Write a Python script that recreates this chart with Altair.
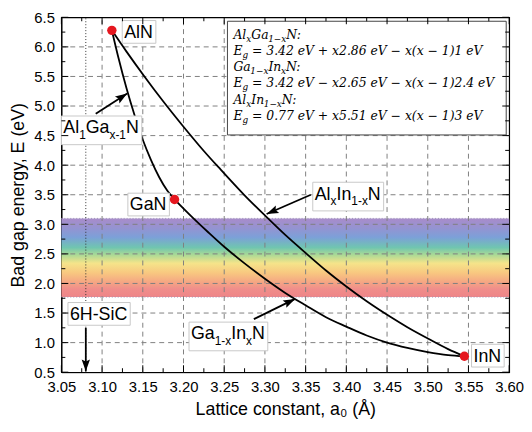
import math
import altair as alt
import pandas as pd

# ---------------- values ----------------
algan_a = [3.112, 3.120, 3.130, 3.140, 3.150, 3.160, 3.170, 3.180, 3.189]
algan_E = [6.28, 5.82, 5.30, 4.84, 4.43, 4.09, 3.80, 3.57, 3.42]

alinn_a = [3.112, 3.130, 3.152, 3.175, 3.200, 3.225, 3.246, 3.275, 3.300, 3.325,
           3.353, 3.375, 3.400, 3.425, 3.456, 3.475, 3.500, 3.525, 3.545]
alinn_E = [6.28, 5.92, 5.50, 5.08, 4.65, 4.24, 3.92, 3.49, 3.15, 2.82,
           2.48, 2.22, 1.95, 1.70, 1.42, 1.26, 1.07, 0.89, 0.77]

gainn_a = [3.189, 3.210, 3.230, 3.250, 3.275, 3.300, 3.325, 3.350, 3.375, 3.400,
           3.425, 3.450, 3.475, 3.500, 3.525, 3.545]
gainn_E = [3.42, 3.13, 2.87, 2.62, 2.34, 2.08, 1.84, 1.63, 1.43, 1.27,
           1.12, 1.00, 0.91, 0.84, 0.79, 0.77]

binary_names = ["AlN", "GaN", "InN"]
binary_a = [3.112, 3.189, 3.545]
binary_E = [6.28, 3.42, 0.77]

visible_hi = 3.10
visible_lo = 1.77
sic_a = 3.08

x_ticks = [3.05, 3.10, 3.15, 3.20, 3.25, 3.30, 3.35, 3.40, 3.45, 3.50, 3.55, 3.60]
x_minor = [3.075, 3.125, 3.175, 3.225, 3.275, 3.325, 3.375, 3.425, 3.475, 3.525, 3.575]
y_ticks = [0.5, 1.0, 1.5, 2.0, 2.5, 3.0, 3.5, 4.0, 4.5, 5.0, 5.5, 6.0, 6.5]
y_minor = [0.75, 1.25, 1.75, 2.25, 2.75, 3.25, 3.75, 4.25, 4.75, 5.25, 5.75, 6.25]

# annotation labels: (segments, anchor a, anchor E); segments: (text, is_subscript)
labels = [
    ([("AlN", False)], 3.1272, 6.153),
    ([("GaN", False)], 3.1341, 3.234),
    ([("InN", False)], 3.5562, 0.679),
    ([("6H-SiC", False)], 3.0605, 1.385),
    ([("Al", False), ("1", True), ("Ga", False), ("x-1", True), ("N", False)], 3.0524, 4.539),
    ([("Al", False), ("x", True), ("In", False), ("1-x", True), ("N", False)], 3.3612, 3.419),
    ([("Ga", False), ("1-x", True), ("In", False), ("x", True), ("N", False)], 3.2092, 1.054),
]

# arrows: start (a, E) -> tip (a2, E2)
arrow_a = [3.0922, 3.3564, 3.2864, 3.08]
arrow_E = [4.870, 3.500, 1.397, 1.250]
arrow_a2 = [3.1308, 3.3021, 3.3371, 3.08]
arrow_E2 = [5.212, 3.174, 1.739, 0.516]

legend_lines = [
    [("Al", False), ("x", True), ("Ga", False), ("1−x", True), ("N:", False)],
    [("E", False), ("g", True), (" = 3.42 eV + x2.86 eV − x(x − 1)1 eV", False)],
    [("Ga", False), ("1−x", True), ("In", False), ("x", True), ("N:", False)],
    [("E", False), ("g", True), (" = 3.42 eV − x2.65 eV − x(x − 1)2.4 eV", False)],
    [("Al", False), ("x", True), ("In", False), ("1−x", True), ("N:", False)],
    [("E", False), ("g", True), (" = 0.77 eV + x5.51 eV − x(x − 1)3 eV", False)],
]

# ---------------- layout / style ----------------
W, H = 453, 359
PPX = W / (3.60 - 3.05)
PPY = H / (6.5 - 0.5)
SANS = "Liberation Sans"
SERIF = "DejaVu Serif"

ARIAL = {'A': .667, 'l': .222, 'G': .778, 'a': .556, 'I': .278, 'n': .556, 'N': .722,
         'x': .5, '-': .333, '1': .556, '6': .556, 'H': .722, 'S': .667, 'i': .222, 'C': .722, ' ': .278}
DJV = {'A': .722, 'l': .320, 'G': .775, 'a': .596, 'I': .365, 'n': .644, 'N': .830, 'x': .564,
       '1': .636, '−': .838, ':': .337, 'E': .730, 'g': .640, ' ': .318}


def width(s, fs, table):
    return sum(table.get(c, 0.6) for c in s) * fs


XS = alt.Scale(domain=[3.05, 3.60], nice=False, zero=False)
YS = alt.Scale(domain=[0.5, 6.5], nice=False, zero=False)
XAX = alt.Axis(values=x_ticks, format=".2f", title="Lattice constant, a₀ (Å)", grid=False, ticks=False,
               domainColor="black", domainWidth=1, labelFont=SANS, labelFontSize=15, labelColor="black",
               labelPadding=8, labelFlush=False, labelOverlap=False, titleFont=SANS, titleFontSize=18,
               titleFontWeight="normal", titleColor="black", titlePadding=6)
YAX = alt.Axis(values=y_ticks, format=".1f", title="Bad gap energy, E (eV)", grid=False, ticks=False,
               domainColor="black", domainWidth=1, labelFont=SANS, labelFontSize=15, labelColor="black",
               labelPadding=7, labelFlush=False, labelOverlap=False, titleFont=SANS, titleFontSize=18,
               titleFontWeight="normal", titleColor="black", titlePadding=6)


def X(f):
    return alt.X(f, type="quantitative", scale=XS, axis=XAX)


def Y(f):
    return alt.Y(f, type="quantitative", scale=YS, axis=YAX)


def segs_chart(df, **mark):
    return alt.Chart(df).mark_rule(**mark).encode(x=X("a"), y=Y("E"), x2="a2:Q", y2="E2:Q")


layers = []

# visible-light band
grad = alt.Gradient(
    gradient="linear", x1=0, x2=0, y1=0, y2=1,
    stops=[
        alt.GradientStop(offset=0.0, color="#a98cca"),
        alt.GradientStop(offset=0.12, color="#9593d1"),
        alt.GradientStop(offset=0.24, color="#7ca0d8"),
        alt.GradientStop(offset=0.37, color="#70c5b0"),
        alt.GradientStop(offset=0.46, color="#a8d996"),
        alt.GradientStop(offset=0.57, color="#f5e48a"),
        alt.GradientStop(offset=0.69, color="#f8c880"),
        alt.GradientStop(offset=0.80, color="#f5a983"),
        alt.GradientStop(offset=0.90, color="#f08d8b"),
        alt.GradientStop(offset=1.0, color="#ee8588"),
    ])
band_df = pd.DataFrame({"a": [3.05], "a2": [3.60], "E": [visible_hi], "E2": [visible_lo]})
layers.append(alt.Chart(band_df).mark_rect(fill=grad).encode(
    x=X("a"), x2="a2:Q", y=Y("E"), y2="E2:Q"))
edge_df = pd.DataFrame({"a": [3.05, 3.05], "a2": [3.60, 3.60],
                        "E": [visible_hi, visible_lo], "E2": [visible_hi, visible_lo]})
layers.append(segs_chart(edge_df, color="#9d93b8", strokeDash=[1, 2], strokeWidth=1))

# grid (dashed)
grid_rows = [{"a": t, "a2": t, "E": 0.5, "E2": 6.5} for t in x_ticks[1:-1]]
grid_rows += [{"a": 3.05, "a2": 3.60, "E": t, "E2": t} for t in y_ticks[1:-1]]
layers.append(segs_chart(pd.DataFrame(grid_rows), color="#7f7f7f", strokeDash=[5, 4], strokeWidth=1))

# 6H-SiC lattice constant (dotted)
sic_df = pd.DataFrame({"a": [sic_a], "a2": [sic_a], "E": [0.5], "E2": [6.5]})
layers.append(segs_chart(sic_df, color="#333333", strokeDash=[1, 2], strokeWidth=1))

# curves
curves = pd.concat([
    pd.DataFrame({"a": algan_a, "E": algan_E, "alloy": "AlGaN"}),
    pd.DataFrame({"a": alinn_a, "E": alinn_E, "alloy": "AlInN"}),
    pd.DataFrame({"a": gainn_a, "E": gainn_E, "alloy": "GaInN"}),
], ignore_index=True)
layers.append(alt.Chart(curves).mark_line(color="black", strokeWidth=1.8, interpolate="monotone").encode(
    x=X("a"), y=Y("E"), detail="alloy:N"))

# arrows
angles = []
for a1, e1, a2, e2 in zip(arrow_a, arrow_E, arrow_a2, arrow_E2):
    dx = (a2 - a1) * PPX
    dy = -(e2 - e1) * PPY
    angles.append(math.degrees(math.atan2(dx, -dy)) % 360)
arr_df = pd.DataFrame({"a": arrow_a, "E": arrow_E, "a2": arrow_a2, "E2": arrow_E2, "ang": angles})
layers.append(segs_chart(arr_df, color="black", strokeWidth=1.8))
ARROW = "M0,0L-0.7,2L0,1.65L0.7,2Z"
layers.append(alt.Chart(arr_df).mark_point(shape=ARROW, filled=True, size=144, color="black",
                                           opacity=1, strokeWidth=0).encode(
    x=X("a2"), y=Y("E2"), angle=alt.Angle("ang:Q", scale=None)))

# annotation labels with boxes
main_rows, sub_rows, box_rows = [], [], []
for segs, a0, e0 in labels:
    off = 0.0
    has_sub = False
    for t, sub in segs:
        fs = 12 if sub else 18
        (sub_rows if sub else main_rows).append({"a": a0 + off / PPX, "E": e0, "t": t})
        off += width(t, fs, ARIAL)
        has_sub = has_sub or sub
    box_rows.append({"a": a0 - 2 / PPX, "a2": a0 + (off + 3) / PPX,
                     "E": e0 + 17.5 / PPY, "E2": e0 - (11.5 if has_sub else 5.5) / PPY})
layers.append(alt.Chart(pd.DataFrame(box_rows)).mark_rect(fill="white", stroke="#c8c8c8", strokeWidth=1).encode(
    x=X("a"), x2="a2:Q", y=Y("E"), y2="E2:Q"))
layers.append(alt.Chart(pd.DataFrame(main_rows)).mark_text(
    align="left", baseline="alphabetic", font=SANS, fontSize=18, color="black").encode(
    x=X("a"), y=Y("E"), text="t:N"))
layers.append(alt.Chart(pd.DataFrame(sub_rows)).mark_text(
    align="left", baseline="alphabetic", font=SANS, fontSize=12, dy=5.5, color="black").encode(
    x=X("a"), y=Y("E"), text="t:N"))

# formula box
leg_box = pd.DataFrame({"a": [3.05 + 168 / PPX], "a2": [3.05 + 450 / PPX],
                        "E": [6.5 - 4 / PPY], "E2": [6.5 - 119 / PPY]})
layers.append(alt.Chart(leg_box).mark_rect(fill="white", stroke="#444444", strokeWidth=1).encode(
    x=X("a"), x2="a2:Q", y=Y("E"), y2="E2:Q"))
baselines = [21.5, 38, 54.5, 71, 87.5, 104]
lmain, lsub = [], []
for segs, bl in zip(legend_lines, baselines):
    off = 0.0
    for t, sub in segs:
        fs = 9 if sub else 12.5
        if t.startswith(" "):
            off += width(" ", fs, DJV)
            t = t.lstrip()
        (lsub if sub else lmain).append({"a": 3.05 + (174 + off) / PPX, "E": 6.5 - bl / PPY, "t": t})
        off += width(t, fs, DJV)
layers.append(alt.Chart(pd.DataFrame(lmain)).mark_text(
    align="left", baseline="alphabetic", font=SERIF, fontStyle="italic", fontSize=12.5, color="black").encode(
    x=X("a"), y=Y("E"), text="t:N"))
layers.append(alt.Chart(pd.DataFrame(lsub)).mark_text(
    align="left", baseline="alphabetic", font=SERIF, fontStyle="italic", fontSize=9, dy=3, color="black").encode(
    x=X("a"), y=Y("E"), text="t:N"))

# binary compounds
layers.append(alt.Chart(pd.DataFrame({"a": binary_a, "E": binary_E, "name": binary_names})).mark_circle(
    size=90, color="#e5171f", opacity=1).encode(x=X("a"), y=Y("E")))

# inward ticks on all four sides
tick_rows = []
for vals, ln in ((x_ticks, 7), (x_minor, 4)):
    for t in vals:
        tick_rows.append({"a": t, "a2": t, "E": 0.5, "E2": 0.5 + ln / PPY})
        tick_rows.append({"a": t, "a2": t, "E": 6.5, "E2": 6.5 - ln / PPY})
for vals, ln in ((y_ticks, 7), (y_minor, 4)):
    for t in vals:
        tick_rows.append({"a": 3.05, "a2": 3.05 + ln / PPX, "E": t, "E2": t})
        tick_rows.append({"a": 3.60, "a2": 3.60 - ln / PPX, "E": t, "E2": t})
layers.append(segs_chart(pd.DataFrame(tick_rows), color="black", strokeWidth=1))

chart = alt.layer(*layers).properties(
    width=W, height=H,
    autosize=alt.AutoSizeParams(type="none"),
    padding={"left": 54, "top": 7, "right": 15, "bottom": 50},
    background="white",
).configure_view(stroke="black", strokeWidth=1.2)

chart.save("out.html", embed_options={"renderer": "svg", "actions": False})
